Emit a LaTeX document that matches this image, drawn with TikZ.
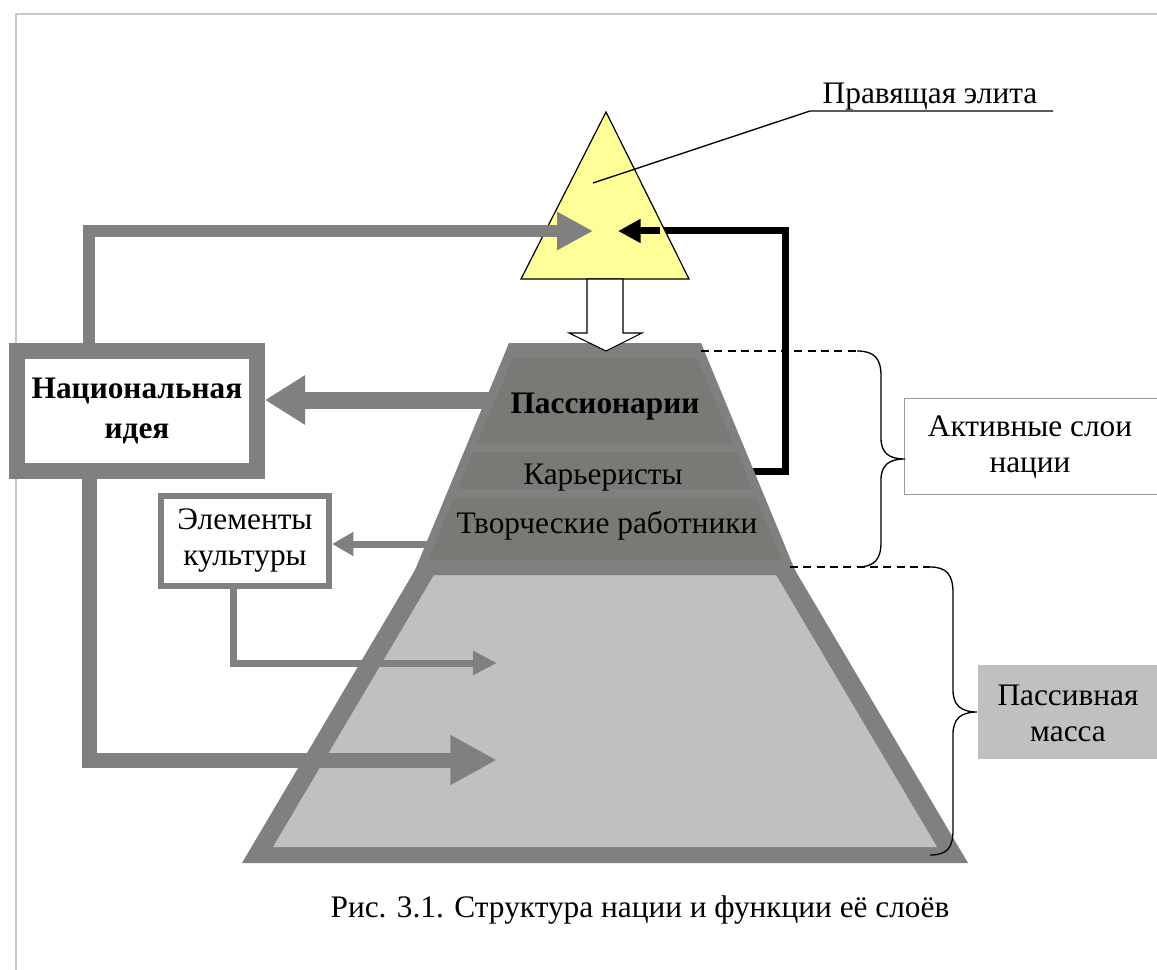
\documentclass[tikz,border=0pt]{standalone}
\usepackage{fontspec}
\setmainfont{Liberation Serif}
\usetikzlibrary{arrows.meta}
\definecolor{dgray}{HTML}{808080}
\definecolor{lgray}{HTML}{C0C0C0}
\definecolor{band}{HTML}{797976}
\definecolor{elite}{HTML}{FFFF99}
\definecolor{frame}{HTML}{C8C8C8}
\definecolor{boxline}{HTML}{999999}
\tikzset{
  txt/.style={font=\fontsize{23.5}{27}\selectfont, align=center, inner sep=0pt},
  btxt/.style={font=\fontsize{23.5}{30}\selectfont\bfseries, align=center, inner sep=0pt},
  grayline/.style={draw=dgray, line join=miter},
  brace/.style={draw=black, line width=1pt},
  dashline/.style={draw=black, line width=0.8pt, dash pattern=on 6pt off 4pt},
}
\begin{document}
\begin{tikzpicture}[x=0.75pt,y=-0.75pt]
\useasboundingbox (0,0) rectangle (1157,970);
\fill[white] (0,0) rectangle (1157,970);
% page frame
\draw[frame, line width=1pt] (16,970) -- (16,14) -- (1160,14);

% nodes
\node[btxt, draw=dgray, line width=12pt, fill=white, minimum width=180pt, minimum height=90pt] (nat) at (137,411) {Национальная\\идея};
\node[txt, draw=dgray, line width=4.5pt, fill=white, minimum width=126pt, minimum height=67.5pt] (elem) at (245,541) {Элементы\\культуры};
\node[txt, draw=boxline, line width=1pt, fill=white, minimum width=190pt, minimum height=72pt, anchor=north west] (act) at (904,398) {};
\node[txt] at (1030,447) {Активные слои\\нации};
\node[txt, fill=lgray, minimum width=134pt, minimum height=70pt, anchor=north west] (pas) at (978,665) {};
\node[txt] at (1068,713) {Пассивная\\масса};

% coordinates
\coordinate (eliteL) at (593,231);
\coordinate (eliteR) at (618,231);
\coordinate (layerL) at (500,400);
\coordinate (layerE) at (445,544);
\coordinate (layerB) at (740,471);
\coordinate (massA) at (497,663);
\coordinate (massB) at (497,760);

% arrows under the pyramid
\draw[grayline, line width=12.75pt, -{Triangle[length=30pt,width=35pt]}] (layerL) -- (layerL -| nat.east);
\draw[grayline, line width=5.25pt, -{Triangle[length=16pt,width=17pt]}] (layerE) -- (layerE -| elem.east);
\draw[black, line width=5.25pt, line join=miter, -{Triangle[length=17pt,width=17pt]}] (layerB) -- (785,471) -- (785,231) -- (eliteR);

% lower trapezoid
\fill[dgray] (418,565) -- (792,565) -- (968,863) -- (242,863) -- cycle;
\fill[lgray] (434,575) -- (776,575) -- (937,847) -- (273,847) -- cycle;
% upper trapezoid
\fill[dgray] (509,343) -- (701,343) -- (797,575) -- (413,575) -- cycle;
\fill[band] (513,358) -- (697,358) -- (733,443) -- (477,443) -- cycle;
\fill[band] (473,452) -- (737,452) -- (752,489) -- (458,489) -- cycle;
\fill[band] (454,498) -- (756,498) -- (782,560) -- (428,560) -- cycle;
\node[btxt] (pass) at (605,407) {Пассионарии};
\node[txt] (kar) at (603,478) {Карьеристы};
\node[txt] (tvor) at (607,526) {Творческие работники};

% arrows over the pyramid
\draw[grayline, line width=9pt, -{Triangle[length=27pt,width=27pt]}] ([xshift=-36pt]nat.north) -- (89,231) -- (eliteL);
\draw[grayline, line width=11.25pt, -{Triangle[length=35pt,width=35pt]}] ([xshift=-36pt]nat.south) -- (89,760) -- (massB);
\draw[grayline, line width=5.25pt, -{Triangle[length=18pt,width=17pt]}] ([xshift=-9pt]elem.south) -- (233,663) -- (massA);

% ruling elite triangle
\draw[black, line width=0.9pt, fill=elite] (606,112) -- (689,279) -- (521,279) -- cycle;
\draw[grayline, line width=9pt, -{Triangle[length=27pt,width=27pt]}] (520,231) -- (eliteL);
\draw[black, line width=5.25pt, -{Triangle[length=17pt,width=17pt]}] (660,231) -- (eliteR);
% leader
\draw[black, line width=1pt] (593,183) -- (810,111) -- (1053,111);
\node[txt, anchor=base] (elabel) at (930,104) {Правящая элита};

% white block arrow
\draw[black, line width=0.8pt, fill=white] (587,279) -- (623,279) -- (623,333) -- (642,333) -- (606,351) -- (569,333) -- (587,333) -- cycle;

% dashed guides
\draw[dashline] (701,351) -- (857,351);
\draw[dashline] (790,567) -- (930,567);

% braces
\draw[brace] (857,351) .. controls (874,351) and (881,358) .. (881,376) -- (881,438)
  .. controls (881,453) and (889,459) .. (905,459)
  .. controls (889,459) and (881,465) .. (881,480) -- (881,542)
  .. controls (881,560) and (874,567) .. (857,567);
\draw[brace] (930,567) .. controls (947,567) and (953,575) .. (953,593) -- (953,690)
  .. controls (953,705) and (961,712) .. (977,712)
  .. controls (961,712) and (953,719) .. (953,734) -- (953,830)
  .. controls (953,848) and (947,855) .. (930,855);

% caption
\node[txt, anchor=base] (cap) at (640,917) {Рис. 3.1. Структура нации и функции её слоёв};
\end{tikzpicture}
\end{document}
